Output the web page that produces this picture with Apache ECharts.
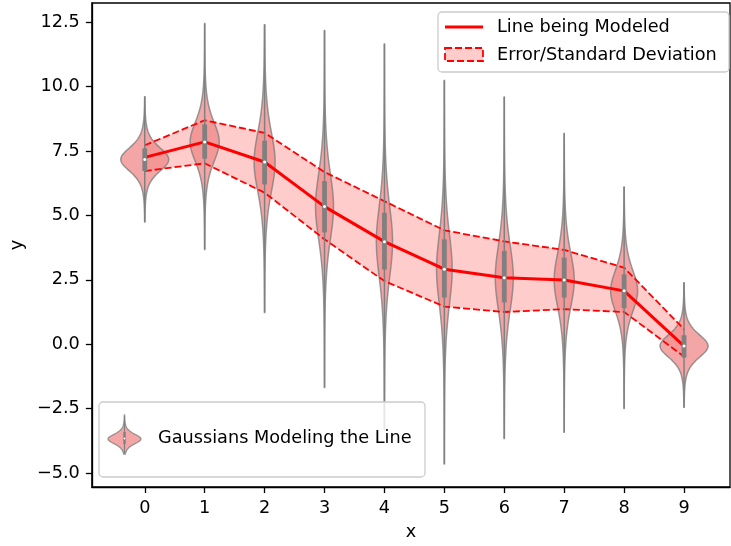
<!DOCTYPE html>
<html><head><meta charset="utf-8">
<script src="https://cdn.jsdelivr.net/npm/echarts@6/dist/echarts.min.js"></script>
<style>html,body{margin:0;padding:0;background:#fff}#c{width:731px;height:546px}</style>
</head><body><div id="c"></div>
<script>
// ---- data ----
const categories = [0, 1, 2, 3, 4, 5, 6, 7, 8, 9];
const lineValues  = [7.25, 7.85, 7.07, 5.34, 3.98, 2.91, 2.58, 2.49, 2.07, -0.07];
const upperValues = [7.72, 8.69, 8.20, 6.68, 5.55, 4.42, 3.99, 3.66, 2.97, 0.58];
const lowerValues = [6.72, 7.02, 5.88, 4.07, 2.45, 1.46, 1.25, 1.36, 1.25, -0.48];

const violinMin    = [4.74, 3.68, 1.23, -1.68, -3.30, -4.65, -3.66, -3.42, -2.49, -2.45];
const violinMax    = [9.60, 12.44, 12.40, 12.17, 11.65, 10.23, 9.59, 8.18, 6.10, 2.39];
const violinQ1     = [6.72, 7.20, 6.20, 4.34, 2.90, 1.81, 1.62, 1.81, 1.40, -0.52];
const violinMedian = [7.17, 7.85, 7.07, 5.34, 3.98, 2.91, 2.58, 2.49, 2.07, -0.07];
const violinQ3     = [7.60, 8.53, 7.90, 6.33, 5.10, 4.07, 3.62, 3.36, 2.71, 0.35];
const violinSpread = [0.50, 0.86, 1.30, 1.45, 1.55, 1.55, 1.44, 1.20, 0.90, 0.49];
const violinHalfWidth = [0.40, 0.242, 0.175, 0.15, 0.135, 0.13, 0.15, 0.167, 0.225, 0.40];

const xTicks = [0, 1, 2, 3, 4, 5, 6, 7, 8, 9];
const yTicks = [-5, -2.5, 0, 2.5, 5, 7.5, 10, 12.5];

// ---- chart ----
const FONT = 'DejaVu Sans';
const FS = 17.7;
const chart = echarts.init(document.getElementById('c'), null, {renderer: 'canvas'});

const violinData = categories.map((c, i) => [c, violinMin[i], violinMax[i], violinQ1[i], violinMedian[i], violinQ3[i], violinSpread[i], violinHalfWidth[i]]);
const bandData = categories.map((c, i) => [c, lowerValues[i], upperValues[i]]);

function profile(z) { return Math.pow(1 + z * z / 5, -3); }

function renderBand(params, api) {
  if (params.dataIndex !== 0) return null;
  const top = categories.map((c, i) => api.coord([c, upperValues[i]]));
  const bot = categories.map((c, i) => api.coord([c, lowerValues[i]])).reverse();
  return {type: 'polygon', shape: {points: top.concat(bot)}, style: {fill: 'rgba(255,0,0,0.2)'}};
}

function renderBody(params, api) {
  const x = api.value(0), lo = api.value(1), hi = api.value(2);
  const c = api.value(4), sd = api.value(6), w = api.value(7);
  const n = 160, right = [], left = [];
  for (let k = 0; k <= n; k++) {
    const y = lo + (hi - lo) * k / n;
    const hw = w * profile((y - c) / sd);
    right.push(api.coord([x + hw, y]));
    left.push(api.coord([x - hw, y]));
  }
  return {
    type: 'polygon',
    shape: {points: right.concat(left.reverse())},
    style: {fill: 'rgba(240,128,128,0.7)', stroke: 'rgba(128,128,128,0.8)', lineWidth: 1.5}
  };
}

function renderInner(params, api) {
  const x = api.value(0);
  const pMin = api.coord([x, api.value(1)]);
  const pMax = api.coord([x, api.value(2)]);
  const pQ1 = api.coord([x, api.value(3)]);
  const pMed = api.coord([x, api.value(4)]);
  const pQ3 = api.coord([x, api.value(5)]);
  return {
    type: 'group',
    children: [
      {type: 'line', shape: {x1: pMin[0], y1: pMin[1], x2: pMax[0], y2: pMax[1]}, style: {stroke: '#808080', lineWidth: 1.5}},
      {type: 'rect', shape: {x: pQ3[0] - 2.4, y: pQ3[1], width: 4.8, height: pQ1[1] - pQ3[1]}, style: {fill: '#808080'}},
      {type: 'circle', shape: {cx: pMed[0], cy: pMed[1], r: 1.5}, style: {fill: '#ffffff'}}
    ]
  };
}

// legend violin icon (pixel space, not data)
const iconRight = [], iconLeft = [];
for (let k = 0; k <= 60; k++) {
  const y = 415 + 39 * k / 60;
  const hw = 16.5 * profile((y - 439) / 5.2);
  iconRight.push([124.5 + hw, y]);
  iconLeft.push([124.5 - hw, y]);
}
const iconPts = iconRight.concat(iconLeft.reverse());

const tickFmt = v => (v < 0 ? '\u2212' : '') + Math.abs(v).toFixed(1);

const option = {
  animation: false,
  backgroundColor: '#ffffff',
  grid: {left: 91, top: 3, right: 1, bottom: 59, show: true, borderColor: '#000', borderWidth: 1.3, backgroundColor: 'transparent'},
  xAxis: {
    type: 'value', min: -0.883, max: 9.767,
    name: 'x', nameLocation: 'middle', nameGap: 36,
    nameTextStyle: {fontFamily: FONT, fontSize: FS, color: '#000'},
    axisLine: {show: true, onZero: false, lineStyle: {color: '#000', width: 1.3}},
    axisTick: {show: true, length: 6, lineStyle: {color: '#000', width: 1.3}, customValues: xTicks},
    axisLabel: {customValues: xTicks, margin: 12, fontFamily: FONT, fontSize: FS, color: '#000', formatter: v => String(v)},
    splitLine: {show: false}
  },
  yAxis: {
    type: 'value', min: -5.54, max: 13.24,
    name: 'y', nameLocation: 'middle', nameGap: 64, nameRotate: 90,
    nameTextStyle: {fontFamily: FONT, fontSize: FS, color: '#000'},
    axisLine: {show: true, onZero: false, lineStyle: {color: '#000', width: 1.3}},
    axisTick: {show: true, length: 6, lineStyle: {color: '#000', width: 1.3}, customValues: yTicks},
    axisLabel: {customValues: yTicks, margin: 12, fontFamily: FONT, fontSize: FS, color: '#000', formatter: tickFmt},
    splitLine: {show: false}
  },
  series: [
    {type: 'custom', data: bandData, renderItem: renderBand, encode: {x: 0, y: [1, 2]}, z: 1, silent: true},
    {type: 'custom', data: violinData, renderItem: renderBody, encode: {x: 0, y: [1, 2]}, z: 2, silent: true},
    {type: 'line', data: categories.map((c, i) => [c, upperValues[i]]), symbol: 'none',
     lineStyle: {color: '#ff0000', width: 1.8, type: [7, 3]}, z: 3, silent: true},
    {type: 'line', data: categories.map((c, i) => [c, lowerValues[i]]), symbol: 'none',
     lineStyle: {color: '#ff0000', width: 1.8, type: [7, 3]}, z: 3, silent: true},
    {type: 'line', data: categories.map((c, i) => [c, lineValues[i]]), symbol: 'none',
     lineStyle: {color: '#ff0000', width: 3}, z: 4, silent: true},
    {type: 'custom', data: violinData, renderItem: renderInner, encode: {x: 0, y: [1, 2]}, z: 5, silent: true}
  ],
  graphic: [
    {type: 'rect', z: 100, shape: {x: 438, y: 12, width: 291, height: 60, r: 4},
     style: {fill: 'rgba(255,255,255,0.8)', stroke: '#cccccc', lineWidth: 1.3}},
    {type: 'line', z: 101, shape: {x1: 445, y1: 27, x2: 483, y2: 27}, style: {stroke: '#ff0000', lineWidth: 3}},
    {type: 'text', z: 101, x: 497, y: 27, style: {text: 'Line being Modeled', font: FS + 'px ' + FONT, fill: '#000', verticalAlign: 'middle'}},
    {type: 'rect', z: 101, shape: {x: 445, y: 48, width: 38, height: 13},
     style: {fill: 'rgba(255,0,0,0.2)', stroke: '#ff0000', lineWidth: 1.8, lineDash: [7, 3]}},
    {type: 'text', z: 101, x: 497, y: 55, style: {text: 'Error/Standard Deviation', font: FS + 'px ' + FONT, fill: '#000', verticalAlign: 'middle'}},

    {type: 'rect', z: 100, shape: {x: 99, y: 402, width: 326, height: 75, r: 4},
     style: {fill: 'rgba(255,255,255,0.8)', stroke: '#cccccc', lineWidth: 1.3}},
    {type: 'polygon', z: 101, shape: {points: iconPts}, style: {fill: 'rgba(240,128,128,0.7)', stroke: 'rgba(128,128,128,0.8)', lineWidth: 1.3}},
    {type: 'line', z: 102, shape: {x1: 124.5, y1: 416, x2: 124.5, y2: 453}, style: {stroke: '#808080', lineWidth: 1.2}},
    {type: 'rect', z: 102, shape: {x: 123.3, y: 432, width: 2.4, height: 12}, style: {fill: '#808080'}},
    {type: 'circle', z: 103, shape: {cx: 124.5, cy: 438.5, r: 0.9}, style: {fill: '#ffffff'}},
    {type: 'text', z: 101, x: 158, y: 438.5, style: {text: 'Gaussians Modeling the Line', font: FS + 'px ' + FONT, fill: '#000', verticalAlign: 'middle'}}
  ]
};
chart.setOption(option);
</script>
</body></html>
